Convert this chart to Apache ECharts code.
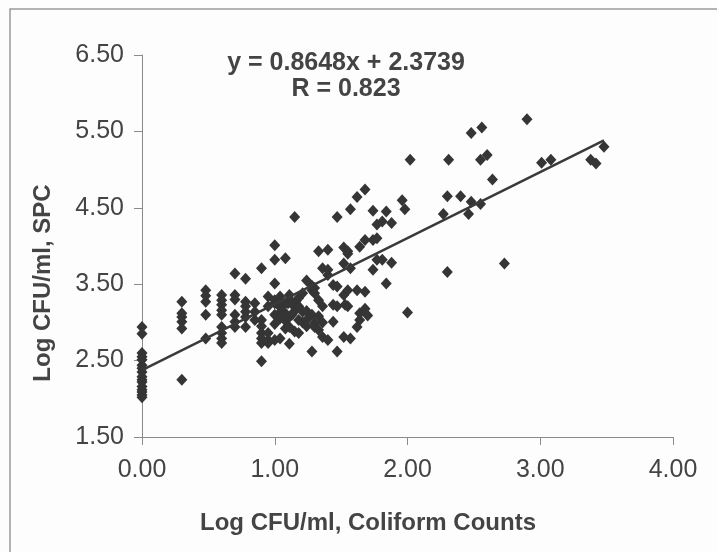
<!DOCTYPE html>
<html>
<head>
<meta charset="utf-8">
<script src="https://cdn.jsdelivr.net/npm/echarts@6/dist/echarts.min.js"></script>
<style>
html,body{margin:0;padding:0;background:#fdfdfd;}
#chart{width:717px;height:552px;}
</style>
</head>
<body>
<div id="chart"></div>
<script>
// Log CFU/ml coliform counts (x) and Log CFU/ml SPC (y)
var coliformLog = [
  0,0,0,0,0,0,0,0,0,0,0,0,0,0,0,0,
  0.30,0.30,0.30,0.30,0.30,0.30,
  0.48,0.48,0.48,0.48,0.48,
  0.60,0.60,0.60,0.60,0.60,0.60,0.60,0.60,0.60,
  0.70,0.70,0.70,0.70,0.70,0.70,
  0.78,0.78,0.78,0.78,0.78,0.78,
  0.85,0.85,0.85,
  0.90,0.90,0.90,0.90,0.90,0.90,0.90,
  0.95,0.95,0.95,0.95,0.95,
  1.00,1.00,1.00,1.00,1.00,1.00,1.00,1.00,
  1.04,1.04,1.04,1.04,1.05,
  1.08,1.08,1.08,1.08,1.08,
  1.11,1.11,1.11,1.11,1.11,1.10,
  1.15,1.15,1.15,1.15,1.13,1.16,
  1.18,1.18,1.18,1.18,
  1.21,1.21,1.21,
  1.24,1.24,1.24,1.24,
  1.28,1.28,1.28,1.28,
  1.30,1.30,1.30,1.30,
  1.33,1.33,1.33,1.33,
  1.36,1.36,1.36,1.36,
  1.40,1.40,1.40,1.40,
  1.44,1.44,1.44,
  1.47,1.47,1.47,1.47,
  1.52,1.52,1.52,1.52,1.53,
  1.55,1.55,1.55,1.55,
  1.57,1.57,1.57,
  1.62,1.62,1.62,
  1.64,1.64,1.64,
  1.68,1.68,1.68,1.68,1.70,
  1.74,1.74,1.74,
  1.77,1.77,1.77,
  1.81,1.81,
  1.84,1.84,
  1.88,1.88,
  1.96,1.98,2.00,2.02,
  2.27,2.30,2.30,2.31,2.40,2.46,2.48,2.48,2.55,2.55,2.56,2.60,2.64,2.73,
  2.90,3.01,3.08,3.38,3.42,3.48
];
var spcLog = [
  2.94,2.85,2.60,2.55,2.51,2.44,2.40,2.35,2.29,2.25,2.22,2.16,2.12,2.09,2.05,2.02,
  3.27,3.12,3.07,3.01,2.92,2.25,
  3.42,3.35,3.27,3.10,2.79,
  3.36,3.29,3.23,3.16,3.10,2.94,2.86,2.79,2.73,
  3.64,3.36,3.30,3.10,3.01,2.94,
  3.57,3.27,3.21,3.14,3.07,2.94,
  3.25,3.14,3.03,
  3.71,3.03,2.95,2.86,2.79,2.73,2.49,
  3.34,3.21,2.86,2.77,2.73,
  4.01,3.82,3.51,3.29,3.25,3.10,2.98,2.77,
  3.34,3.20,3.05,2.79,3.15,
  3.84,3.25,3.12,2.92,3.02,
  3.36,3.07,2.94,2.72,3.30,3.25,
  4.38,3.20,3.15,2.88,3.10,3.28,
  3.32,3.21,3.03,2.86,
  3.38,3.14,3.00,
  3.55,3.03,3.15,2.95,
  3.42,2.62,3.10,3.48,
  3.38,2.99,2.94,3.45,
  3.93,3.29,2.90,3.08,
  3.71,3.21,2.81,3.00,
  3.95,3.69,2.77,3.62,
  3.49,3.01,3.23,
  4.38,3.47,2.62,3.21,
  3.98,3.77,3.36,2.81,3.23,
  3.93,3.42,3.21,3.90,
  4.48,3.71,2.79,
  4.64,3.42,2.94,
  3.99,3.03,3.12,
  4.74,3.40,3.18,4.08,3.09,
  4.46,4.08,3.69,
  4.28,3.82,4.10,
  4.32,3.82,
  4.45,3.51,
  4.30,3.78,
  4.60,4.48,3.13,5.13,
  4.42,4.65,3.66,5.13,4.65,4.42,4.58,5.48,4.55,5.13,5.55,5.19,4.87,3.77,
  5.66,5.09,5.13,5.13,5.08,5.30
];
// fitted trend line end points, as drawn
var trendX = [0, 3.48];
var trendY = [2.374, 5.383];
var xTicks = [0, 1, 2, 3, 4];
var yTicks = [1.5, 2.5, 3.5, 4.5, 5.5, 6.5];
var equationText = 'y = 0.8648x + 2.3739';
var rText = 'R = 0.823';
var xTitle = 'Log CFU/ml, Coliform Counts';
var yTitle = 'Log CFU/ml, SPC';

var points = coliformLog.map(function (x, i) { return [x, spcLog[i]]; });
var trend = trendX.map(function (x, i) { return [x, trendY[i]]; });

var chart = echarts.init(document.getElementById('chart'), null, {renderer: 'canvas'});
var txt = '#444444';
var font = 'Liberation Sans';
chart.setOption({
  animation: false,
  backgroundColor: '#fdfdfd',
  title: {
    text: equationText + '\n' + rText,
    left: 341, top: 45, textAlign: 'center',
    textStyle: {fontFamily: font, fontSize: 25, fontWeight: 'bold', color: txt, lineHeight: 26, align: 'center'}
  },
  grid: {left: 142, right: 44, top: 55, bottom: 115},
  xAxis: {
    type: 'value', min: xTicks[0], max: xTicks[xTicks.length - 1], interval: 1,
    axisLine: {lineStyle: {color: '#8a8a8a', width: 1}},
    axisTick: {show: true, length: 8, lineStyle: {color: '#8a8a8a'}},
    splitLine: {show: false},
    axisLabel: {margin: 21, fontFamily: font, fontSize: 25, color: txt, formatter: function (v) { return v.toFixed(2); }}
  },
  yAxis: {
    type: 'value', min: yTicks[0], max: yTicks[yTicks.length - 1], interval: 1,
    axisLine: {show: true, lineStyle: {color: '#8a8a8a', width: 1}},
    axisTick: {show: true, length: 8, lineStyle: {color: '#8a8a8a'}},
    splitLine: {show: false},
    axisLabel: {margin: 18, fontFamily: font, fontSize: 25, color: txt, formatter: function (v) { return v.toFixed(2); }}
  },
  graphic: [
    {type: 'rect', shape: {x: 10, y: 9, width: 720, height: 560}, style: {fill: 'none', stroke: '#9a9a9a', lineWidth: 1.5}, silent: true, z: -1},
    {type: 'text', x: 368, y: 523, style: {text: xTitle, fontFamily: font, fontSize: 24, fontWeight: 'bold', fill: txt, align: 'center', verticalAlign: 'middle'}},
    {type: 'text', x: 43, y: 283, rotation: Math.PI / 2, style: {text: yTitle, fontFamily: font, fontSize: 24, fontWeight: 'bold', fill: txt, align: 'center', verticalAlign: 'middle'}}
  ],
  series: [
    {type: 'scatter', data: points, symbol: 'diamond', symbolSize: [11, 12], itemStyle: {color: '#353535', opacity: 1}, z: 3},
    {type: 'line', data: trend, symbol: 'none', lineStyle: {color: '#3a3a3a', width: 2.5}, z: 4}
  ]
});
</script>
</body>
</html>
